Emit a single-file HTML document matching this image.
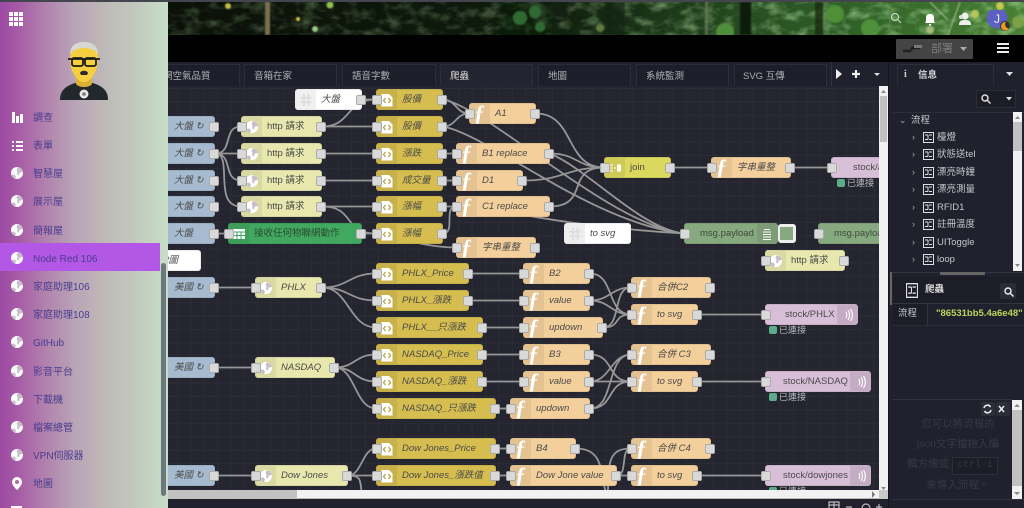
<!DOCTYPE html>
<html lang="zh-Hant"><head><meta charset="utf-8"><title>Node-RED</title>
<style>
html,body{margin:0;padding:0;width:1024px;height:508px;overflow:hidden;background:#20212c;font-family:"Liberation Sans","Noto Sans CJK TC",sans-serif}
div,span,svg{position:absolute;box-sizing:border-box}
svg{display:block}
#cv{left:0;top:86px;width:879px;height:404px;overflow:hidden;background-color:#24252f;background-image:linear-gradient(#2b2c37 1px,transparent 1px),linear-gradient(90deg,#2b2c37 1px,transparent 1px);background-size:13.4px 13.4px;background-position:3px 2px}
#in{left:0;top:-86px;width:879px;height:490px}
.n{height:21px;border-radius:3px;border:1px solid rgba(0,0,0,.08);font-size:9.5px;line-height:19px;color:#4b4b4b;padding-left:25px;white-space:nowrap;font-style:italic}
.n.r{font-style:normal}
.n>u{position:absolute;left:0;top:0;bottom:0;width:20px;background:rgba(0,0,0,.06);border-radius:2px 0 0 2px;text-decoration:none}
.n>u svg{left:3px;top:3px;width:14px;height:14px}
.n>u b{position:absolute;left:0;width:19px;top:-1px;text-align:center;color:#fff;font:italic bold 22px/20px "Liberation Serif",serif}
.pl::before,.pr::after{content:"";position:absolute;width:8px;height:8px;top:5px;background:#d9d9d9;border:1px solid #aaa;border-radius:2px;z-index:3}
.pl::before{left:-5px}.pr::after{right:-5px}
.i{background:#a6bbcf}.c{background:#fff}.h{background:#e7e7ae}.t{background:#d5bd4f}.f{background:#f3cf9b}.j{background:#dcd75e}.d{background:#87a980}.m{background:#d8bfd8}.g{background:#41a85f;color:#2b4b33}
.s{font-size:9px;color:#b7b7bb;padding-left:10px;height:12px;line-height:12px;width:50px}
.s::before{content:"";position:absolute;left:0;top:2px;width:8px;height:8px;background:#5cab8a;border-radius:2px}
.k{position:absolute;right:0;top:0;bottom:0;width:20px;background:rgba(0,0,0,.09)}
.tb{top:64px;height:22px;background:#1d1e29;border:1px solid #2c2d38;border-bottom:0;font-size:9.5px;line-height:23px;color:#b0b0b5;padding-left:9px;white-space:nowrap;overflow:hidden}
.mi{left:33px;margin-top:2px;font-size:10px;color:#4c3d8f;height:16px;line-height:16px;white-space:nowrap}
.ic{left:10px;width:14px;height:14px}
.tr{left:937px;width:38px;overflow:hidden;font-size:9.5px;color:#c6c6ca;line-height:13px;height:13px;white-space:nowrap}
.ti{left:923px;width:11px;height:11px}
.ch{left:912px;font-size:9px;color:#aaa;line-height:10px}
.hp{left:905px;width:106px;text-align:center;font-size:10.5px;color:#383944;white-space:nowrap}
</style></head><body>
<svg width="0" height="0" style="left:0;top:0"><defs>
<symbol id="doc" viewBox="0 0 14 14"><path d="M1.500 1h7.500l3.500 3.500v9h-11z" fill="#fff"/><path d="M5.500 5l-2 2.500 2 2.500M8.500 5l2 2.500-2 2.500" fill="none" stroke="#b5a040" stroke-width="1.200"/></symbol>
<symbol id="gw" viewBox="0 0 14 14"><circle cx="7" cy="7" r="6" fill="#fff"/><path d="M7.500 1.500c3 0 5 2 5.500 4.500l-3 .5-1.500 3-1.500-1 .5-3-1-1.500zM1.500 9l3-.5 1.500 2-1 2.500c-1.500-.5-3-2-3.500-4z" fill="#9b8aa0" opacity=".55"/></symbol>
<symbol id="hash" viewBox="0 0 14 14"><path d="M5 1v12M9.500 1v12M1.500 4.800h11M1.500 9.200h11" stroke="#ddd" stroke-width="1.800"/></symbol>
<symbol id="ws" viewBox="0 0 14 14"><path d="M8 2c2 3 2 7 0 10M6 4c1 2 1 4 0 6M10.500 1c2.500 4 2.500 8 0 12" fill="none" stroke="#fff" stroke-width="1.100"/></symbol>
<symbol id="flow" viewBox="0 0 11 11"><rect x=".5" y=".5" width="10" height="10" fill="none" stroke="#ddd"/><path d="M2 3h3M6 3h3M2 7.500h3M6 7.500h3M5 3v4.500" stroke="#ddd"/></symbol>
</defs></svg>

<!-- header image -->
<svg style="left:0;top:2px" width="1024" height="33" viewBox="0 2 1024 33">
<defs>
<linearGradient id="fg" x1="0" x2="1" y1="0" y2="0"><stop offset=".16" stop-color="#182414"/><stop offset=".33" stop-color="#1a2a15"/><stop offset=".45" stop-color="#1a2e17"/><stop offset=".55" stop-color="#1d361a"/><stop offset=".62" stop-color="#22441e"/><stop offset=".7" stop-color="#2a5425"/><stop offset=".85" stop-color="#366c2c"/><stop offset="1" stop-color="#4a8035"/></linearGradient>
<linearGradient id="dk" x1="0" x2="1" y1="0" y2="0"><stop offset=".16" stop-color="#000" stop-opacity=".55"/><stop offset=".5" stop-color="#000" stop-opacity=".45"/><stop offset=".75" stop-color="#000" stop-opacity=".12"/><stop offset="1" stop-color="#000" stop-opacity="0"/></linearGradient>
<filter id="nz" x="0" y="0" width="100%" height="100%"><feTurbulence type="fractalNoise" baseFrequency=".06 .1" numOctaves="3" seed="4"/><feColorMatrix values="0 0 0 0 .35  0 0 0 0 .65  0 0 0 0 .28  1.800 0 0 0 -.8"/></filter>
<filter id="bl"><feGaussianBlur stdDeviation=".8"/></filter>
</defs>
<rect width="1024" height="35" fill="url(#fg)"/>
<rect width="1024" height="35" filter="url(#nz)"/>
<rect width="1024" height="35" fill="url(#dk)"/>
<g filter="url(#bl)">
<rect x="265" y="2" width="5" height="33" fill="#7a7050"/><rect x="705" y="2" width="3" height="33" fill="#6c7f60" opacity=".7"/>
<rect x="740" y="2" width="11" height="33" fill="#0f1a0c"/><rect x="605" y="2" width="20" height="33" fill="#132310" opacity=".7"/><rect x="500" y="2" width="50" height="33" fill="#101c0e" opacity=".3"/><rect x="815" y="2" width="8" height="33" fill="#16240f" opacity=".8"/>
<path d="M930 2l18 18M960 2l-12 33" stroke="#b8c2a8" fill="none"/>
<circle cx="228" cy="6" r="3" fill="#c2c04a"/><circle cx="330" cy="5" r="3.500" fill="#8fbf4f"/><circle cx="315" cy="29" r="3" fill="#9acb8a"/><circle cx="298" cy="19" r="2" fill="#cfc84a"/><circle cx="520" cy="18" r="7" fill="#2f6a33"/><circle cx="535" cy="12" r="6" fill="#2f6a33"/><circle cx="540" cy="27" r="5" fill="#2f6a33"/><circle cx="835" cy="14" r="9" fill="#4f8f38"/><circle cx="870" cy="28" r="9" fill="#4d8f3a"/><circle cx="1000" cy="6" r="4" fill="#c8c84f"/><circle cx="975" cy="14" r="4" fill="#b9c65a"/><circle cx="1018" cy="22" r="6" fill="#7da04a"/><circle cx="930" cy="30" r="4" fill="#a6b87a"/><circle cx="600" cy="28" r="4" fill="#5e7a3c"/><circle cx="725" cy="32" r="9" fill="#4f8f3a"/>
</g></svg>
<div style="left:0;top:0;width:1024px;height:2px;background:#45454f"></div>
<div style="left:0;top:35px;width:1024px;height:27px;background:#000"></div>

<!-- top right icons -->
<svg style="left:890px;top:10px" width="134" height="22" viewBox="890 10 134 22">
<circle cx="895" cy="17" r="3.500" fill="none" stroke="#c6d6c4" stroke-width="1.200"/><path d="M898 20l3 3" stroke="#c6d6c4" stroke-width="1.200"/>
<path d="M925 23c1-1 1-3 1-5 0-3 1.500-4 4-4s4 1 4 4c0 2 0 4 1 5zM929 24h2v1.500h-2z" fill="#fff"/>
<circle cx="965" cy="16" r="3.500" fill="#eee"/><path d="M959 25c0-4 2-5 6-5s6 1 6 5z" fill="#eee"/><circle cx="961" cy="17" r="2" fill="#ddd"/>
<circle cx="997" cy="18" r="10.500" fill="#5d60c3"/><circle cx="1005" cy="26" r="5" fill="#333"/><path d="M1006 22a4.300 4.300 0 1 0 3 6.500 4 4 0 0 1-3-6.500z" fill="#e99a25"/></svg>
<div style="left:994px;top:12px;width:8px;font-size:12px;line-height:14px;color:#eee">J</div>

<!-- deploy -->
<div style="left:896px;top:39px;width:77px;height:20px;background:#444;border-radius:1px"></div>
<svg style="left:903px;top:42px" width="22" height="14"><path d="M0 9h7l4-4h3M8 6h9" stroke="#222" stroke-width="2.500" fill="none"/><path d="M11 3h8v3h-8z" fill="#777"/></svg>
<div style="left:931px;top:42px;font-size:11px;line-height:14px;color:#7b7b7b">部署</div>
<svg style="left:960px;top:47px" width="8" height="5"><path d="M0 0h7l-3.500 4z" fill="#aaa"/></svg>
<div style="left:997px;top:43px;width:12px;height:2px;background:#eee;box-shadow:0 4px 0 #eee,0 8px 0 #eee"></div>

<!-- tab bar -->
<div style="left:168px;top:62px;width:721px;height:24px;background:#20212c"></div>
<div class="tb" style="left:160px;width:80px;padding-left:2px">網空氣品質</div>
<div class="tb" style="left:244px;width:93px">音箱在家</div>
<div class="tb" style="left:342px;width:94px">語音字數</div>
<div class="tb" style="left:440px;width:93px;color:#ddd;background:#23242f">爬蟲</div>
<div class="tb" style="left:538px;width:93px">地圖</div>
<div class="tb" style="left:636px;width:93px">系統監測</div>
<div class="tb" style="left:734px;width:93px;padding-left:8px">SVG 互傳</div>
<div style="left:831px;top:62px;width:1px;height:24px;background:#33343f"></div>
<svg style="left:835px;top:69px" width="50" height="11"><path d="M1 0l6 5-6 5z" fill="#eee"/><path d="M17 5h8M21 1v8" stroke="#eee" stroke-width="2.200"/><path d="M39 4h6l-3 3z" fill="#ddd"/></svg>

<!-- canvas -->
<div id="cv"><div id="in">
<svg style="left:0;top:0" width="879" height="490" viewBox="0 -.5 879 490" fill="none" stroke="#969696" stroke-width="1.800">
<path d="M215 153C234 153 222 126 241 126M215 153H241M215 153C234 153 222 180 241 180M215 153C234 153 212 206 241 206"/>
<path d="M322 126C352 126 345 99 376 99M322 126H376M322 153H376M322 180H376M322 206H376M322 206C356 206 342 233 376 233M362 99H376M215 233H228M362 233H376"/>
<path d="M443 99C456 99 456 113 469 113M443 126C456 126 456 113 469 113M443 153H456M443 180H456M443 206H456M443 233C456 233 443 206 456 206"/>
<path d="M443 99C490 108 610 225 684 233M443 126C490 135 590 222 684 233M550 153C590 170 640 228 684 233M500 210C540 218 600 228 684 233M420 243C435 246 445 247 456 247"/>
<path d="M536 113C575 113 565 167 604 167M550 153C577 153 577 167 604 167M523 180C565 180 565 167 604 167M550 206C590 206 565 167 604 167M671 167H711M791 167H831"/>
<path d="M322 287C349 287 349 273 376 273M322 287C349 287 349 300 376 300M322 287C349 287 349 327 376 327"/>
<path d="M335 367C355 367 355 354 376 354M335 367C355 367 355 381 376 381M335 367C355 367 355 408 376 408"/>
<path d="M348 475C362 475 362 448 376 448M348 475H376M348 475C362 475 360 480 362 495"/>
<path d="M215 287H255M215 367H255M215 475H255"/>
<path d="M469 273H523M469 300H523M483 327H523M483 354H523M483 381H523M496 408H510M496 448H510M496 475H510"/>
<path d="M590 273C615 273 606 314 631 314M590 300C610 300 611 287 631 287M590 300C610 300 611 314 631 314M603 327C622 327 612 287 631 287M603 327C622 327 612 314 631 314"/>
<path d="M590 354C615 354 606 381 631 381M590 381C610 381 611 354 631 354M590 381H631M590 408C615 408 606 354 631 354M590 408C615 408 606 381 631 381"/>
<path d="M576 448C605 448 600 475 606 492M608 490C608 460 610 448 631 448M617 475C628 475 620 448 631 448M617 475H631"/>
<path d="M698 314H765M698 381H765M698 475H765"/>
</svg>

<div class="n c pr" style="left:295px;top:89px;width:67px"><u><svg><use href="#hash"/></svg></u>大盤</div>
<div class="n i pr" style="left:120px;top:116px;width:95px;padding-left:53px">大盤 ↻</div>
<div class="n i pr" style="left:120px;top:143px;width:95px;padding-left:53px">大盤 ↻</div>
<div class="n i pr" style="left:120px;top:170px;width:95px;padding-left:53px">大盤 ↻</div>
<div class="n i pr" style="left:120px;top:196px;width:95px;padding-left:53px">大盤 ↻</div>
<div class="n i pr" style="left:120px;top:223px;width:95px;padding-left:53px">大盤</div>
<div class="n c" style="left:120px;top:250px;width:81px;padding-left:38px">地圖</div>
<div class="n i pr" style="left:120px;top:277px;width:95px;padding-left:53px">美國 ↻</div>
<div class="n i pr" style="left:120px;top:357px;width:95px;padding-left:53px">美國 ↻</div>
<div class="n i pr" style="left:120px;top:465px;width:95px;padding-left:53px">美國 ↻</div>

<div class="n h r pl pr" style="left:241px;top:116px;width:81px"><u><svg><use href="#gw"/></svg></u>http 請求</div>
<div class="n h r pl pr" style="left:241px;top:143px;width:81px"><u><svg><use href="#gw"/></svg></u>http 請求</div>
<div class="n h r pl pr" style="left:241px;top:170px;width:81px"><u><svg><use href="#gw"/></svg></u>http 請求</div>
<div class="n h r pl pr" style="left:241px;top:196px;width:81px"><u><svg><use href="#gw"/></svg></u>http 請求</div>
<div class="n g r pl pr" style="left:228px;top:223px;width:134px"><u><svg viewBox="0 0 14 14"><path d="M1 2h12v10H1z" fill="#fff"/><path d="M1 5h12M1 8.500h12M5 5v7M9 5v7" stroke="#41a85f"/></svg></u>接收任何物聯網動作</div>
<div class="n h pl pr" style="left:255px;top:277px;width:67px"><u><svg><use href="#gw"/></svg></u>PHLX</div>
<div class="n h pl pr" style="left:255px;top:357px;width:80px"><u><svg><use href="#gw"/></svg></u>NASDAQ</div>
<div class="n h pl pr" style="left:255px;top:465px;width:93px"><u><svg><use href="#gw"/></svg></u>Dow Jones</div>

<div class="n t pl pr" style="left:376px;top:89px;width:67px"><u><svg><use href="#doc"/></svg></u>股價</div>
<div class="n t pl pr" style="left:376px;top:116px;width:67px"><u><svg><use href="#doc"/></svg></u>股價</div>
<div class="n t pl pr" style="left:376px;top:143px;width:67px"><u><svg><use href="#doc"/></svg></u>漲跌</div>
<div class="n t pl pr" style="left:376px;top:170px;width:67px"><u><svg><use href="#doc"/></svg></u>成交量</div>
<div class="n t pl pr" style="left:376px;top:196px;width:67px"><u><svg><use href="#doc"/></svg></u>漲幅</div>
<div class="n t pl pr" style="left:376px;top:223px;width:67px"><u><svg><use href="#doc"/></svg></u>漲幅</div>
<div class="n t pl pr" style="left:376px;top:263px;width:93px"><u><svg><use href="#doc"/></svg></u>PHLX_Price</div>
<div class="n t pl pr" style="left:376px;top:290px;width:93px"><u><svg><use href="#doc"/></svg></u>PHLX_漲跌</div>
<div class="n t pl pr" style="left:376px;top:317px;width:107px"><u><svg><use href="#doc"/></svg></u>PHLX__只漲跌</div>
<div class="n t pl pr" style="left:376px;top:344px;width:107px"><u><svg><use href="#doc"/></svg></u>NASDAQ_Price</div>
<div class="n t pl pr" style="left:376px;top:371px;width:107px"><u><svg><use href="#doc"/></svg></u>NASDAQ_漲跌</div>
<div class="n t pl pr" style="left:376px;top:398px;width:120px"><u><svg><use href="#doc"/></svg></u>NASDAQ_只漲跌</div>
<div class="n t pl pr" style="left:376px;top:438px;width:120px"><u><svg><use href="#doc"/></svg></u>Dow Jones_Price</div>
<div class="n t pl pr" style="left:376px;top:465px;width:120px"><u><svg><use href="#doc"/></svg></u>Dow Jones_漲跌值</div>

<div class="n f pl pr" style="left:469px;top:103px;width:67px"><u><b>ƒ</b></u>A1</div>
<div class="n f pl pr" style="left:456px;top:143px;width:94px"><u><b>ƒ</b></u>B1 replace</div>
<div class="n f pl pr" style="left:456px;top:170px;width:67px"><u><b>ƒ</b></u>D1</div>
<div class="n f pl pr" style="left:456px;top:196px;width:94px"><u><b>ƒ</b></u>C1 replace</div>
<div class="n f pl pr" style="left:456px;top:237px;width:80px"><u><b>ƒ</b></u>字串重整</div>
<div class="n f pl pr" style="left:711px;top:157px;width:80px"><u><b>ƒ</b></u>字串重整</div>
<div class="n f pl pr" style="left:523px;top:263px;width:67px"><u><b>ƒ</b></u>B2</div>
<div class="n f pl pr" style="left:523px;top:290px;width:67px"><u><b>ƒ</b></u>value</div>
<div class="n f pl pr" style="left:523px;top:317px;width:80px"><u><b>ƒ</b></u>updown</div>
<div class="n f pl pr" style="left:523px;top:344px;width:67px"><u><b>ƒ</b></u>B3</div>
<div class="n f pl pr" style="left:523px;top:371px;width:67px"><u><b>ƒ</b></u>value</div>
<div class="n f pl pr" style="left:510px;top:398px;width:80px"><u><b>ƒ</b></u>updown</div>
<div class="n f pl pr" style="left:510px;top:438px;width:66px"><u><b>ƒ</b></u>B4</div>
<div class="n f pl pr" style="left:510px;top:465px;width:107px"><u><b>ƒ</b></u>Dow Jone value</div>
<div class="n f pl pr" style="left:631px;top:277px;width:80px"><u><b>ƒ</b></u>合併C2</div>
<div class="n f pl pr" style="left:631px;top:304px;width:67px"><u><b>ƒ</b></u>to svg</div>
<div class="n f pl pr" style="left:631px;top:344px;width:80px"><u><b>ƒ</b></u>合併 C3</div>
<div class="n f pl pr" style="left:631px;top:371px;width:67px"><u><b>ƒ</b></u>to svg</div>
<div class="n f pl pr" style="left:631px;top:438px;width:80px"><u><b>ƒ</b></u>合併 C4</div>
<div class="n f pl pr" style="left:631px;top:465px;width:67px"><u><b>ƒ</b></u>to svg</div>

<div class="n j r pl pr" style="left:604px;top:157px;width:67px"><u><svg viewBox="0 0 14 14"><path d="M1 4h4M1 7h4M1 10h4M6 7h2" stroke="#fff"/><path d="M9 3.500h4v7H9z" fill="#fff"/></svg></u>join</div>
<div class="n c" style="left:564px;top:223px;width:67px"><u style="background:#eee"><svg><use href="#hash"/></svg></u>to svg</div>

<div class="n d r pl" style="left:684px;top:223px;width:94px;padding-left:15px;color:#3e4a3b">msg.payload<span class="k" style="background:rgba(0,0,0,.08)"><svg style="left:5px;top:4px" width="10" height="13"><path d="M2 1.500h6M1 4h8M1 6.500h8M1 9h8M1 11.500h8" stroke="#fff"/></svg></span></div>
<div style="left:778px;top:224px;width:18px;height:19px;border:3px solid #eee;border-radius:3px;background:#87a980;border-left-width:2px"></div>
<div class="n d r pl" style="left:818px;top:223px;width:94px;padding-left:15px;color:#3e4a3b">msg.payload</div>
<div class="n h r pl pr" style="left:765px;top:250px;width:80px"><u><svg><use href="#gw"/></svg></u>http 請求</div>

<div class="n m r pl" style="left:831px;top:157px;width:94px;padding-left:21px">stock/all</div>
<div class="s" style="left:837px;top:177px">已連接</div>
<div class="n m r pl" style="left:765px;top:304px;width:93px;padding-left:19px">stock/PHLX<span class="k"><svg style="left:3px;top:3px" width="14" height="14"><use href="#ws"/></svg></span></div>
<div class="s" style="left:769px;top:324px">已連接</div>
<div class="n m r pl" style="left:765px;top:371px;width:106px;padding-left:17px">stock/NASDAQ<span class="k"><svg style="left:3px;top:3px" width="14" height="14"><use href="#ws"/></svg></span></div>
<div class="s" style="left:769px;top:391px">已連接</div>
<div class="n m r pl" style="left:765px;top:465px;width:106px;padding-left:17px">stock/dowjones<span class="k"><svg style="left:3px;top:3px" width="14" height="14"><use href="#ws"/></svg></span></div>
<div class="s" style="left:769px;top:485px">已連接</div>
</div></div>

<!-- canvas scrollbars -->
<div style="left:879px;top:86px;width:9px;height:413px;background:#f1f1f1"></div>
<div style="left:880px;top:96px;width:7px;height:46px;background:#c1c1c1"></div>
<svg style="left:880px;top:88px" width="7" height="405"><path d="M1 5l2.500-3 2.500 3zM1 399h5l-2.500 3z" fill="#888"/></svg>
<div style="left:168px;top:490px;width:711px;height:9px;background:#f1f1f1;border-bottom:1px solid #bbb"></div>
<div style="left:168px;top:490px;width:129px;height:9px;background:#c1c1c1"></div>
<svg style="left:871px;top:491px" width="6" height="7"><path d="M1 0l3 3.500L1 7z" fill="#777"/></svg>
<div style="left:879px;top:490px;width:9px;height:9px;background:#c9c9c9"></div>
<div style="left:168px;top:499px;width:721px;height:9px;background:#20212c"></div>
<svg style="left:826px;top:501px" width="56" height="7" fill="none" stroke="#bbb" stroke-width="1.200"><path d="M3 1h10v7H3zM8 1v7M3 4h10M20 6h6M36 7a4 4 0 1 1 8 0M50 6h6M53 3v6"/></svg>

<!-- right panel -->
<div style="left:888px;top:62px;width:136px;height:446px;background:#20212c"></div>
<div style="left:888px;top:62px;width:1px;height:446px;background:#15161f"></div>
<div style="left:890px;top:272px;width:2px;height:33px;background:#666"></div>
<div style="left:897px;top:64px;width:97px;height:22px;background:#20212c;border:1px solid #2d2e39;border-bottom:0;font-size:9.5px;line-height:22px;color:#d8d8dc;padding-left:20px;font-weight:bold">信息</div>
<div style="left:904px;top:69px;font:bold 10px/12px 'Liberation Serif',serif;color:#ccc">i</div>
<svg style="left:1006px;top:72px" width="8" height="5"><path d="M0 0h7l-3.500 4z" fill="#ddd"/></svg>
<div style="left:893px;top:112px;width:131px;height:1px;background:#2d2e39"></div>
<div style="left:976px;top:90px;width:40px;height:18px;background:#1b1c26;border:1px solid #2d2e39;border-radius:2px"></div>
<svg style="left:980px;top:93px" width="34" height="12" fill="none" stroke="#ddd" stroke-width="1.500"><circle cx="5" cy="5" r="3"/><path d="M7.500 7.500l3 3"/><path d="M26 4h6l-3 3.500z" fill="#ddd" stroke="none"/></svg>
<div style="left:911px;top:114px;font-size:9.5px;line-height:13px;color:#c6c6ca">流程</div>
<div style="left:899px;top:115px;font-size:9px;color:#aaa;line-height:11px">⌄</div>

<div class="ch" style="top:132px">›</div><svg class="ti" style="top:132px"><use href="#flow"/></svg><div class="tr" style="top:131px">檯燈</div>
<div class="ch" style="top:149px">›</div><svg class="ti" style="top:149px"><use href="#flow"/></svg><div class="tr" style="top:148px">狀態送telegram</div>
<div class="ch" style="top:167px">›</div><svg class="ti" style="top:167px"><use href="#flow"/></svg><div class="tr" style="top:166px">漂亮時鐘</div>
<div class="ch" style="top:184px">›</div><svg class="ti" style="top:184px"><use href="#flow"/></svg><div class="tr" style="top:183px">漂亮測量表</div>
<div class="ch" style="top:202px">›</div><svg class="ti" style="top:202px"><use href="#flow"/></svg><div class="tr" style="top:201px">RFID1</div>
<div class="ch" style="top:219px">›</div><svg class="ti" style="top:219px"><use href="#flow"/></svg><div class="tr" style="top:218px">註冊溫度表</div>
<div class="ch" style="top:237px">›</div><svg class="ti" style="top:237px"><use href="#flow"/></svg><div class="tr" style="top:236px">UIToggles</div>
<div class="ch" style="top:254px">›</div><svg class="ti" style="top:254px"><use href="#flow"/></svg><div class="tr" style="top:253px">loop</div>

<div style="left:1013px;top:112px;width:9px;height:159px;background:#f1f1f1"></div>
<div style="left:1013px;top:122px;width:9px;height:29px;background:#c1c1c1"></div>
<svg style="left:1014px;top:114px" width="7" height="156"><path d="M1 5l2.500-3 2.500 3zM1 150h5l-2.500 3z" fill="#888"/></svg>
<div style="left:893px;top:272px;width:131px;height:1px;background:#33343f"></div>
<div style="left:940px;top:272px;width:45px;height:3px;background:#666;border-radius:1px"></div>
<div style="left:893px;top:277px;width:131px;height:27px;background:#1c1d27;border-bottom:1px solid #33343f"></div>
<svg class="ti" style="left:906px;top:283px;width:12px;height:15px" viewBox="0 0 11 11" preserveAspectRatio="none"><use href="#flow"/></svg>
<div style="left:925px;top:283px;font-size:9.500px;line-height:14px;color:#ddd;font-weight:bold">爬蟲</div>
<div style="left:1000px;top:283px;width:16px;height:16px;background:#2a2b36;border-radius:2px"></div>
<svg style="left:1003px;top:286px" width="11" height="11" fill="none" stroke="#eee" stroke-width="1.400"><circle cx="5" cy="5" r="3"/><path d="M7.500 7.500l3 3"/></svg>
<div style="left:893px;top:304px;width:35px;height:21px;background:#1c1d27;font-size:9.500px;line-height:20px;color:#c6c6ca;padding-left:5px;border-right:1px solid #33343f">流程</div>
<div style="left:936px;top:307px;font:bold 9.500px/14px 'Liberation Sans',sans-serif;color:#bdd35c;white-space:nowrap">"86531bb5.4a6e48"</div>
<div style="left:893px;top:325px;width:131px;height:1px;background:#2b2c37"></div>
<div style="left:893px;top:399px;width:119px;height:1px;background:#33343f"></div>
<div style="left:893px;top:499px;width:131px;height:1px;background:#33343f"></div>
<div style="left:981px;top:402px;width:14px;height:14px;background:#2c2d38;border-radius:2px"></div>
<div style="left:996px;top:402px;width:14px;height:14px;background:#2c2d38;border-radius:2px"></div>
<svg style="left:983px;top:404px" width="26" height="10" fill="none" stroke="#eee" stroke-width="1.500"><path d="M1 4a3.500 3.500 0 0 1 6.500-1M8 6a3.500 3.500 0 0 1-6.500 1"/><path d="M16 2l5 6M21 2l-5 6"/></svg>
<div class="hp" style="top:416px;line-height:16px">您可以將流程的</div>
<div class="hp" style="top:436px;line-height:16px">json文字檔拖入編</div>
<div class="hp" style="top:456px;line-height:16px;left:907px;text-align:left">輯方塊或<span style="position:static;display:inline-block;font:10px/16px 'Liberation Mono',monospace;border:1px solid #2d2e39;background:#1c1d27;padding:0 4px;margin-left:3px">ctrl-i</span></div>
<div class="hp" style="top:477px;line-height:16px">來導入流程。</div>
<div style="left:1012px;top:400px;width:10px;height:99px;background:#f1f1f1"></div>
<div style="left:1012px;top:410px;width:10px;height:76px;background:#c1c1c1"></div>
<svg style="left:1014px;top:402px" width="7" height="96"><path d="M0 5l3-3 3 3zM0 90h6l-3 3z" fill="#888"/></svg>

<!-- left sidebar -->
<div style="left:0;top:2px;width:168px;height:506px;background:linear-gradient(90deg,#9c49a2 0,#a85ea6 12%,#b184ae 28%,#b9a5b6 45%,#bfbcb9 65%,#c2c8bd 80%,#c8dec8 100%)"></div>
<div style="left:9px;top:12px;width:4px;height:4px;background:#fff;box-shadow:5px 0 #fff,10px 0 #fff,0 5px #fff,5px 5px #fff,10px 5px #fff,0 10px #fff,5px 10px #fff,10px 10px #fff"></div>
<svg style="left:58px;top:40px" width="52" height="62" viewBox="58 40 52 62">
<path d="M60 100c0-10 6-16 24-19 18 3 24 9 24 19z" fill="#23282c"/>
<path d="M76 78h16v6c-3 4-13 4-16 0z" fill="#dab137"/>
<path d="M70 58c0-9 6-16 14-16s14 7 14 16c0 14-7 24-14 24s-14-10-14-24z" fill="#f5cf3f"/>
<path d="M70 54c0-8 6-12 14-12s14 4 14 12c-3-4-8-6-14-6s-11 2-14 6z" fill="#d8d8d2"/>
<rect x="72" y="58" width="11" height="8" rx="2" fill="#f5cf3f" stroke="#1c1c1c" stroke-width="1.800"/><rect x="85" y="58" width="11" height="8" rx="2" fill="#f5cf3f" stroke="#1c1c1c" stroke-width="1.800"/><path d="M68 59h32M83 60h2" stroke="#1c1c1c" stroke-width="1.800"/>
<path d="M80 73c1-3 7-3 8 0l-1 2h-6z" fill="#2a2a2a"/>
<circle cx="84" cy="94" r="4.500" fill="#e8e8e8"/><circle cx="84" cy="94" r="1.800" fill="#777"/></svg>

<div style="left:0;top:243px;width:160px;height:28px;background:#b257e6"></div>

<svg class="ic" style="top:110px"><path d="M2 2h3v11H2zM6 6h3v7H6zM10 4h3v9h-3z" fill="#fff"/></svg><div class="mi" style="top:109px">調查</div>
<svg class="ic" style="top:138px"><path d="M2 3h2v2H2zM6 3h7v2H6zM2 7h2v2H2zM6 7h7v2H6zM2 11h2v2H2zM6 11h7v2H6z" fill="#fff"/></svg><div class="mi" style="top:137px">表單</div>
<svg class="ic" style="top:166px"><use href="#gw"/></svg><div class="mi" style="top:165px">智慧屋</div>
<svg class="ic" style="top:194px"><use href="#gw"/></svg><div class="mi" style="top:193px">展示屋</div>
<svg class="ic" style="top:223px"><use href="#gw"/></svg><div class="mi" style="top:222px">簡報屋</div>
<svg class="ic" style="top:251px"><use href="#gw"/></svg><div class="mi" style="top:250px">Node Red 106</div>
<svg class="ic" style="top:279px"><use href="#gw"/></svg><div class="mi" style="top:278px">家庭助理106</div>
<svg class="ic" style="top:307px"><use href="#gw"/></svg><div class="mi" style="top:306px">家庭助理108</div>
<svg class="ic" style="top:335px"><use href="#gw"/></svg><div class="mi" style="top:334px">GitHub</div>
<svg class="ic" style="top:364px"><use href="#gw"/></svg><div class="mi" style="top:363px">影音平台</div>
<svg class="ic" style="top:392px"><use href="#gw"/></svg><div class="mi" style="top:391px">下載機</div>
<svg class="ic" style="top:420px"><use href="#gw"/></svg><div class="mi" style="top:419px">檔案總管</div>
<svg class="ic" style="top:448px"><use href="#gw"/></svg><div class="mi" style="top:447px">VPN伺服器</div>
<svg class="ic" style="top:476px"><path d="M7 1a5 5 0 0 1 5 5c0 3-3 6-5 8-2-2-5-5-5-8a5 5 0 0 1 5-5z" fill="#fff"/><circle cx="7" cy="6" r="2" fill="#a86ca8"/></svg><div class="mi" style="top:475px">地圖</div>
<div style="left:11px;top:506px;width:11px;height:2px;background:#fff"></div>
<div style="left:161px;top:263px;width:5px;height:233px;background:#6b787c;border-radius:3px"></div>
</body></html>
